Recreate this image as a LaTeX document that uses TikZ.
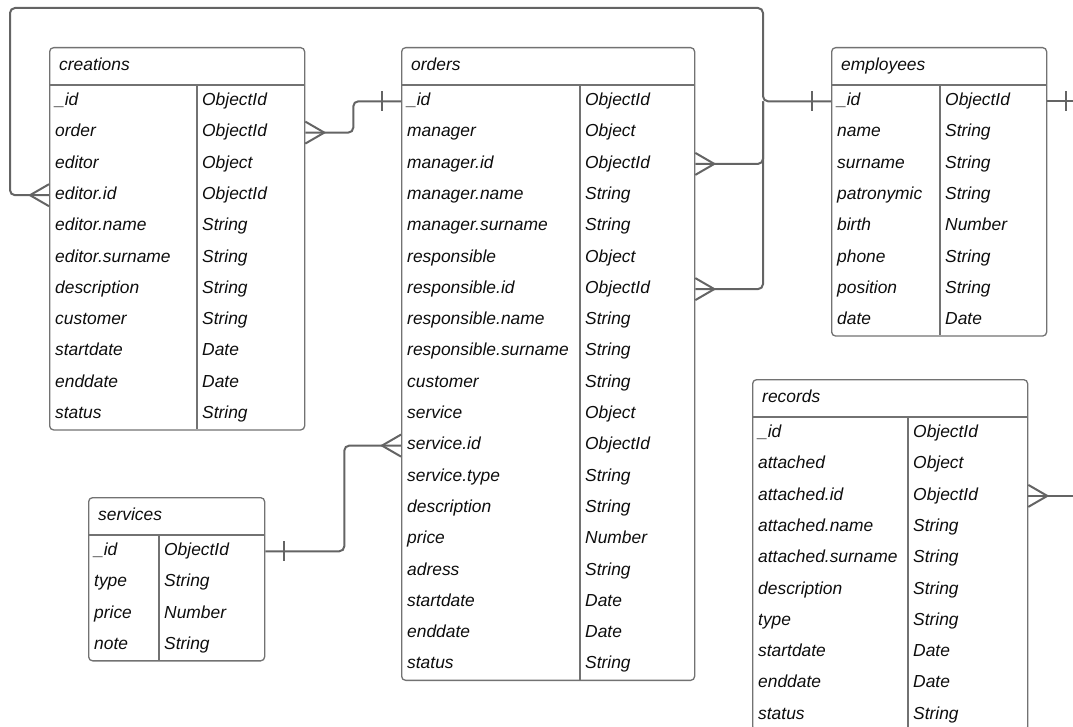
\documentclass[tikz,border=0pt]{standalone}
\usepackage{fontspec}
\setmainfont{Liberation Sans}
\definecolor{framegray}{HTML}{727272}
\definecolor{linkgray}{HTML}{646464}
\tikzstyle{table}=[draw=framegray,line width=1.3pt,rounded corners=4pt,anchor=north west,inner sep=0pt]
\tikzstyle{rule}=[draw=framegray,line width=1.3pt]
\tikzstyle{title}=[anchor=west,inner sep=0pt,text height=12pt,text depth=3.5pt,font=\fontsize{17.4}{20}\selectfont\itshape,text=black!95]
\tikzstyle{field}=[anchor=west,inner xsep=6pt,inner ysep=0pt,text height=12pt,text depth=3.5pt,font=\fontsize{17.4}{20}\selectfont\itshape,text=black!95]
\tikzstyle{link}=[draw=linkgray,line width=2pt,rounded corners=5pt]
\tikzset{
  many/.pic={\draw[link,rounded corners=0pt] (0,-11) -- (19,0) -- (0,11);},
  one/.pic={\draw[link] (19,-10) -- (19,10);}
}

\begin{document}
\begin{tikzpicture}[x=1pt,y=-1pt]
\useasboundingbox (0,0) rectangle (1073,727);
\clip (0,0) rectangle (1073,727);

% creations
\node[table,minimum width=255pt,minimum height=382.3pt] (creations) at (49,47) {};
\node[title] (creations-title) at (59,66) {creations};
\draw[rule] (49,85) -- (304,85) (197,85) -- (197,429.3);
\foreach \fname/\ftype [count=\i] in {\_id/ObjectId,order/ObjectId,editor/Object,editor.id/ObjectId,editor.name/String,editor.surname/String,description/String,customer/String,startdate/Date,enddate/Date,status/String}{
  \node[field] (creations-\i) at (49,{70+31.3*\i}) {\fname};
  \node[field,inner xsep=5pt] (creations-\i-type) at (197,{70+31.3*\i}) {\ftype};
}

% orders
\node[table,minimum width=293pt,minimum height=632.7pt] (orders) at (401,47) {};
\node[title] (orders-title) at (411,66) {orders};
\draw[rule] (401,85) -- (694,85) (580,85) -- (580,679.7);
\foreach \fname/\ftype [count=\i] in {\_id/ObjectId,manager/Object,manager.id/ObjectId,manager.name/String,manager.surname/String,responsible/Object,responsible.id/ObjectId,responsible.name/String,responsible.surname/String,customer/String,service/Object,service.id/ObjectId,service.type/String,description/String,price/Number,adress/String,startdate/Date,enddate/Date,status/String}{
  \node[field] (orders-\i) at (401,{70+31.3*\i}) {\fname};
  \node[field,inner xsep=5pt] (orders-\i-type) at (580,{70+31.3*\i}) {\ftype};
}

% employees
\node[table,minimum width=215pt,minimum height=288.4pt] (employees) at (831,47) {};
\node[title] (employees-title) at (841,66) {employees};
\draw[rule] (831,85) -- (1046,85) (940,85) -- (940,335.4);
\foreach \fname/\ftype [count=\i] in {\_id/ObjectId,name/String,surname/String,patronymic/String,birth/Number,phone/String,position/String,date/Date}{
  \node[field] (employees-\i) at (831,{70+31.3*\i}) {\fname};
  \node[field,inner xsep=5pt] (employees-\i-type) at (940,{70+31.3*\i}) {\ftype};
}

% records
\node[table,minimum width=275pt,minimum height=351pt] (records) at (752,379) {};
\node[title] (records-title) at (762,398) {records};
\draw[rule] (752,417) -- (1027,417) (908,417) -- (908,730);
\foreach \fname/\ftype [count=\i] in {\_id/ObjectId,attached/Object,attached.id/ObjectId,attached.name/String,attached.surname/String,description/String,type/String,startdate/Date,enddate/Date,status/String}{
  \node[field] (records-\i) at (752,{402+31.3*\i}) {\fname};
  \node[field,inner xsep=5pt] (records-\i-type) at (908,{402+31.3*\i}) {\ftype};
}

% services
\node[table,minimum width=176pt,minimum height=163.2pt] (services) at (88,497) {};
\node[title] (services-title) at (98,516) {services};
\draw[rule] (88,535) -- (264,535) (159,535) -- (159,660.2);
\foreach \fname/\ftype [count=\i] in {\_id/ObjectId,type/String,price/Number,note/String}{
  \node[field] (services-\i) at (88,{520+31.3*\i}) {\fname};
  \node[field,inner xsep=5pt] (services-\i-type) at (159,{520+31.3*\i}) {\ftype};
}

% connectors
\coordinate (bus) at (763,8);
\coordinate (loop) at (10,8);
\coordinate (offright) at (1100,0);
\draw[link] (employees-1.west) -| (bus) -- (loop) |- (creations-4.west);
\draw[link] (orders-3 -| orders.east) -| (employees-1.west -| bus);
\draw[link] (orders-7 -| orders.east) -| (employees-1.west -| bus);
\draw[link] (creations-2 -| creations.east) -- ++(48,0) |- (orders-1.west);
\draw[link] (services-1 -| services.east) -- ++(79,0) |- (orders-12.west);
\draw[link] (employees-1 -| employees.east) -- (employees-1 -| offright);
\draw[link] (records-3 -| records.east) -- (records-3 -| offright);

\pic[xscale=-1] at (creations-4.west) {many};
\pic at (creations-2 -| creations.east) {many};
\pic[xscale=-1] at (orders-1.west) {one};
\pic at (orders-3 -| orders.east) {many};
\pic at (orders-7 -| orders.east) {many};
\pic[xscale=-1] at (orders-12.west) {many};
\pic at (services-1 -| services.east) {one};
\pic[xscale=-1] at (employees-1.west) {one};
\pic at (employees-1 -| employees.east) {one};
\pic at (records-3 -| records.east) {many};
\end{tikzpicture}
\end{document}
